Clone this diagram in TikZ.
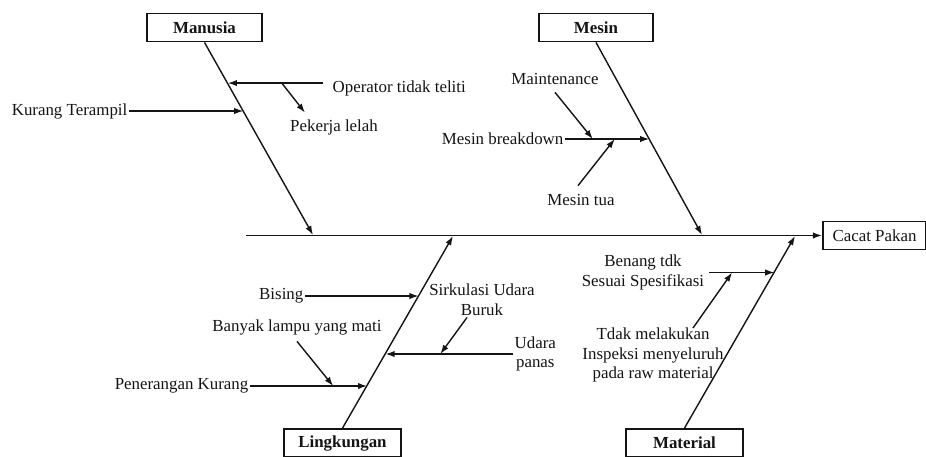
\documentclass[tikz,border=0pt]{standalone}
\usepackage{fontspec}
\setmainfont{Liberation Serif}
\usetikzlibrary{arrows.meta,calc}
\definecolor{Ink}{HTML}{141414}

\begin{document}
\begin{tikzpicture}[x=0.025cm,y=-0.025cm,
  kotak/.style={draw=Ink,line width=1.3pt,minimum height=0.7cm,inner sep=2pt,
    font=\fontsize{12}{14}\selectfont\bfseries,text=Ink},
  sebab/.style={font=\fontsize{12}{14}\selectfont,text=Ink,inner sep=1pt,align=center},
  tulang/.style={draw=Ink,line width=1pt,-{Latex[length=6.5pt,width=4.5pt]}}]
\useasboundingbox (0,0) rectangle (926,456);

% kepala ikan dan tulang utama
\node[kotak,font=\fontsize{12}{14}\selectfont,minimum width=2.575cm] (cacat) at (874.5,235.5) {Cacat Pakan};
\coordinate (ekor) at (246,235.5);
\draw[tulang] (ekor) -- (cacat.west);

% kategori
\node[kotak,minimum width=2.875cm] (manusia) at (204.5,27.5) {Manusia};
\node[kotak,minimum width=2.85cm] (mesin) at (596,27.5) {Mesin};
\node[kotak,minimum width=2.925cm] (lingkungan) at (342.5,443) {Lingkungan};
\node[kotak,minimum width=2.925cm] (material) at (684.5,443) {Material};
\coordinate (sManusia) at (313,235);
\coordinate (sMesin) at (702,235);
\coordinate (sLingkungan) at (453,236);
\coordinate (sMaterial) at (795,236);
\draw[tulang] (manusia.south) -- (sManusia);
\draw[tulang] (mesin.south) -- (sMesin);
\draw[tulang] (lingkungan.north) -- (sLingkungan);
\draw[tulang] (material.north) -- (sMaterial);

% Manusia
\coordinate (tM1) at ($(manusia.south)!0.358!(sManusia)$);
\coordinate (tM2) at ($(manusia.south)!0.215!(sManusia)$);
\node[sebab,anchor=east] (kurang) at (129,111) {Kurang Terampil};
\draw[tulang] (kurang.east) -- (kurang.east -| tM1);
\node[sebab,anchor=west] (operator) at (331,88) {Operator tidak teliti};
\coordinate (aOperator) at ([xshift=-6pt,yshift=3.5pt]operator.west);
\coordinate (hOperator) at (aOperator -| tM2);
\draw[tulang] (aOperator) -- (hOperator);
\node[sebab] (pekerja) at (334,127) {Pekerja lelah};
\draw[tulang] ($(aOperator)!0.43!(hOperator)$) -- ($(pekerja.north)+(-29,-5)$);

% Mesin
\coordinate (tMe1) at ($(mesin.south)!0.503!(sMesin)$);
\node[sebab,anchor=east] (breakdown) at (565,139) {Mesin breakdown};
\coordinate (hBreak) at (breakdown.east -| tMe1);
\draw[tulang] (breakdown.east) -- (hBreak);
\node[sebab] (maint) at (555,79) {Maintenance};
\draw[tulang] ($(maint.south)+(0,6)$) -- ($(breakdown.east)!0.33!(hBreak)$);
\node[sebab] (tua) at (581,200) {Mesin tua};
\draw[tulang] ($(tua.north)+(-3,-7)$) -- ($(breakdown.east)!0.59!(hBreak)$);

% Lingkungan
\coordinate (tL1) at ($(lingkungan.north)!0.689!(sLingkungan)$);
\coordinate (tL2) at ($(lingkungan.north)!0.389!(sLingkungan)$);
\coordinate (tL3) at ($(lingkungan.north)!0.223!(sLingkungan)$);
\node[sebab,anchor=east] (bising) at (305,296) {Bising};
\draw[tulang] (bising.east) -- (bising.east -| tL1);
\node[sebab,anchor=west] (udara) at (513,354) {Udara\\panas};
\coordinate (hUdara) at (udara.west -| tL2);
\draw[tulang] (udara.west) -- (hUdara);
\node[sebab] (sirkulasi) at (482,300) {Sirkulasi Udara\\Buruk};
\draw[tulang] ($(sirkulasi.south)+(-15,0)$) -- ($(udara.west)!0.57!(hUdara)$);
\node[sebab,anchor=east] (penerangan) at (250,386) {Penerangan Kurang};
\coordinate (hPenerangan) at (penerangan.east -| tL3);
\draw[tulang] (penerangan.east) -- (hPenerangan);
\node[sebab] (lampu) at (297,327) {Banyak lampu yang mati};
\draw[tulang] ($(lampu.south)+(0,5)$) -- ($(penerangan.east)!0.71!(hPenerangan)$);

% Material
\coordinate (tMa1) at ($(material.north)!0.813!(sMaterial)$);
\node[sebab] (benang) at (643,272.5) {Benang tdk\\Sesuai Spesifikasi};
\coordinate (aBenang) at ([xshift=2.5pt]benang.east);
\coordinate (hBenang) at (aBenang -| tMa1);
\draw[tulang] (aBenang) -- (hBenang);
\node[sebab] (inspeksi) at (653,355) {Tdak melakukan\\Inspeksi menyeluruh\\pada raw material};
\draw[tulang] ($(inspeksi.north)+(40,2)$) -- ($(aBenang)!0.35!(hBenang)$);
\end{tikzpicture}
\end{document}
